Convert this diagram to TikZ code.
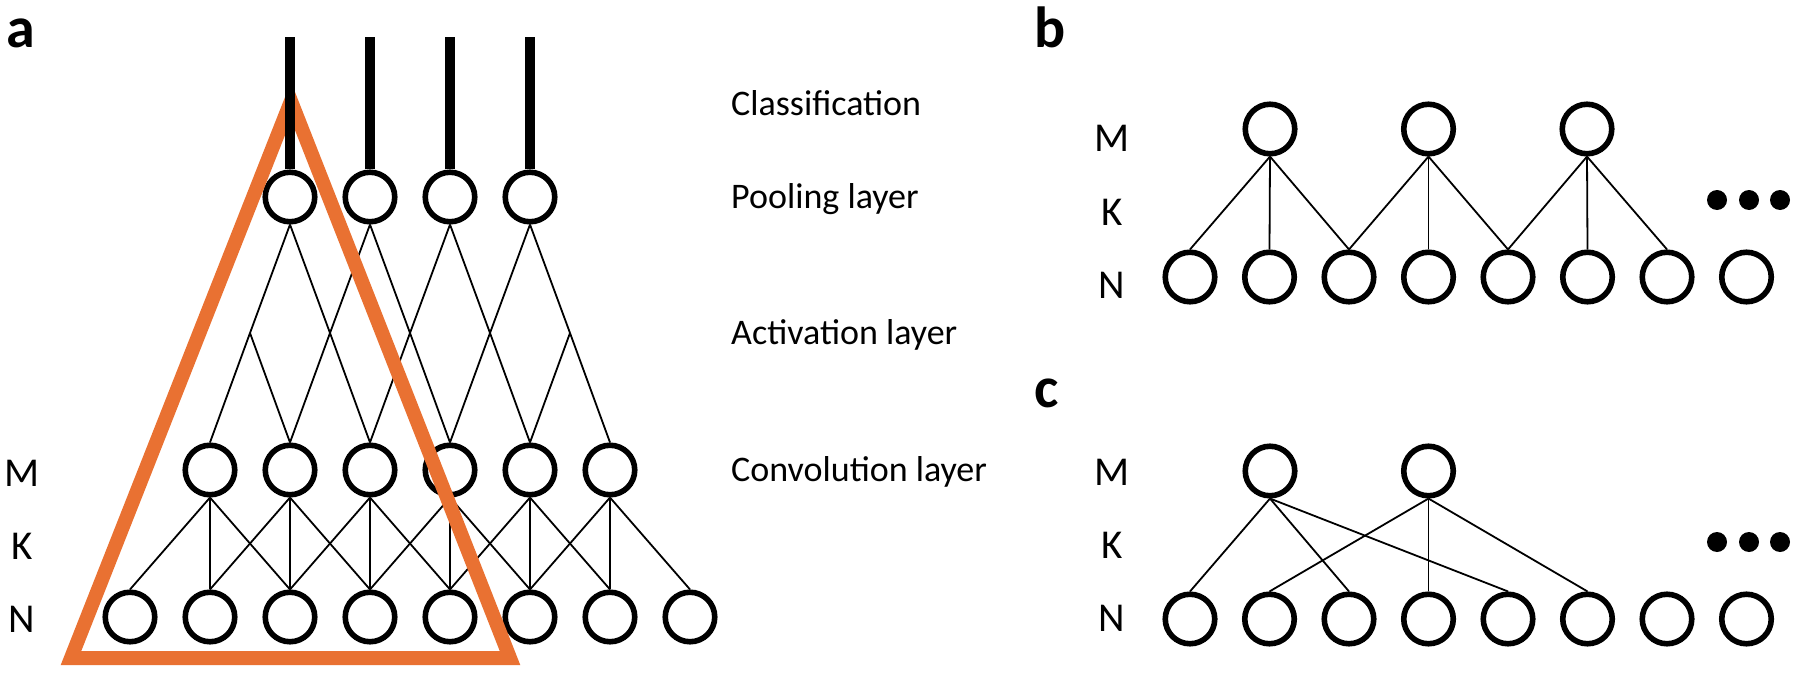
\documentclass[tikz,border=0pt]{standalone}
\usepackage{fontspec}
\setmainfont{Carlito}
\definecolor{orng}{HTML}{E97132}
\begin{document}
\begin{tikzpicture}[x=1pt,y=-1pt,
  neuron/.style={circle,draw,line width=5.6pt,minimum size=49.5pt,inner sep=0pt,fill=white},
  conn/.style={line width=1.8pt},
  axon/.style={line width=9.5pt},
  lbl/.style={font=\fontsize{36}{40}\selectfont,anchor=base west,inner sep=0pt},
  lay/.style={font=\fontsize{41}{45}\selectfont,inner sep=0pt},
  panel/.style={font=\fontsize{58}{60}\selectfont\bfseries,anchor=base west,inner sep=0pt},
  bigdot/.style={circle,fill,minimum size=20pt,inner sep=0pt}]
\useasboundingbox (0,0) rectangle (1818,682);

% ---------- panel a ----------
\node[panel] (la) at (6,48) {a};
\foreach \k in {1,...,8} \node[neuron] (aN\k) at ({130+80*(\k-1)},617) {};
\foreach \j in {1,...,6} \node[neuron] (aM\j) at ({210+80*(\j-1)},470) {};
\foreach \i in {1,...,4} \node[neuron] (aP\i) at ({290+80*(\i-1)},197) {};
\foreach \j in {1,...,5} \coordinate (aA\j) at ({250+80*(\j-1)},333);
\foreach \i in {1,...,4} \coordinate (aT\i) at ({290+80*(\i-1)},37);

\foreach \j in {1,...,6} {
  \foreach \d in {0,1,2} {
    \pgfmathtruncatemacro\k{\j+\d}
    \draw[conn] (aM\j.south) -- (aN\k.north);
  }
}
\foreach \i in {1,...,4} {
  \pgfmathtruncatemacro\n{\i+1}
  \draw[conn] (aP\i.south) -- (aA\i);
  \draw[conn] (aP\i.south) -- (aA\n);
}
\foreach \j in {1,...,5} {
  \pgfmathtruncatemacro\n{\j+1}
  \draw[conn] (aA\j) -- (aM\j.north);
  \draw[conn] (aA\j) -- (aM\n.north);
}

\coordinate (tri1) at (291,101);
\coordinate (tri2) at (510,658);
\coordinate (tri3) at (71,658);
\draw[orng,line width=14pt,line join=miter] (tri1) -- (tri2) -- (tri3) -- cycle;

\foreach \i in {1,...,4} \draw[axon] (aP\i.north) -- (aT\i);

\node[lay] (aLM) at (22,473) {M};
\node[lay] (aLK) at (22,546) {K};
\node[lay] (aLN) at (22,619) {N};

\node[lbl] (tC) at (731,116) {Classification};
\node[lbl] (tP) at (731,208) {Pooling layer};
\node[lbl] (tA) at (731,344) {Activation layer};
\node[lbl] (tV) at (731,481) {Convolution layer};

% ---------- panel b ----------
\node[panel] (lb) at (1034,48) {b};
\foreach \k in {1,...,8} \node[neuron] (bN\k) at ({1190+79.5*(\k-1)},277) {};
\foreach \j in {1,...,3} \node[neuron] (bM\j) at ({1270+158.5*(\j-1)},129) {};
\foreach \j in {1,...,3} {
  \foreach \d in {-1,0,1} {
    \pgfmathtruncatemacro\k{2*\j+\d}
    \draw[conn] (bM\j.south) -- (bN\k.north);
  }
}
\foreach \x [count=\i] in {1717,1749,1780} \node[bigdot] (bD\i) at (\x,200) {};
\node[lay] (bLM) at (1112,138) {M};
\node[lay] (bLK) at (1112,212) {K};
\node[lay] (bLN) at (1112,285) {N};

% ---------- panel c ----------
\node[panel] (lc) at (1034,407) {c};
\foreach \k in {1,...,8} \node[neuron] (cN\k) at ({1190+79.5*(\k-1)},619) {};
\foreach \j in {1,2} \node[neuron] (cM\j) at ({1270+158.5*(\j-1)},471) {};
\foreach \k in {1,3,5} \draw[conn] (cM1.south) -- (cN\k.north);
\foreach \k in {2,4,6} \draw[conn] (cM2.south) -- (cN\k.north);
\foreach \x [count=\i] in {1717,1749,1780} \node[bigdot] (cD\i) at (\x,542) {};
\node[lay] (cLM) at (1112,472) {M};
\node[lay] (cLK) at (1112,545) {K};
\node[lay] (cLN) at (1112,618) {N};
\end{tikzpicture}
\end{document}
